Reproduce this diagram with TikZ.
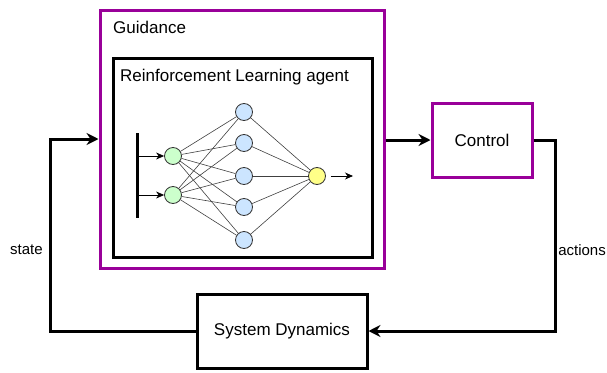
\documentclass[tikz,border=0pt]{standalone}
\usepackage{fontspec}
\setmainfont{Liberation Sans}
\usetikzlibrary{arrows.meta}
\definecolor{purp}{HTML}{990099}
\definecolor{ingreen}{HTML}{CCFFCC}
\definecolor{hidblue}{HTML}{CCE5FF}
\definecolor{outyel}{HTML}{FFFF88}
\tikzset{
  purplebox/.style={draw=purp, line width=3pt, rectangle, inner sep=0pt},
  blackbox/.style={draw=black, line width=3pt, rectangle, inner sep=0pt},
  conn/.style={line width=3pt, -{Stealth[length=12pt,width=12pt,inset=4pt]}, line join=miter},
  neuron/.style={circle, draw=black!80, line width=0.8pt, minimum size=17pt, inner sep=0pt},
  syn/.style={draw=black!75, line width=0.6pt},
  small arrow/.style={line width=0.8pt, -{Stealth[length=8pt,width=7pt,inset=2.5pt]}},
  lbl/.style={font=\fontsize{17}{20}\selectfont, inner sep=0pt},
}
\begin{document}
\begin{tikzpicture}[x=1pt,y=-1pt]
\useasboundingbox (0,0) rectangle (607,372);
% boxes
\node[purplebox, minimum width=284pt, minimum height=258pt] (guid) at (242,139) {};
\node[lbl, anchor=west] (guidlbl) at (113,27) {Guidance};
\node[blackbox, minimum width=259pt, minimum height=199pt] (rl) at (242.5,157.5) {};
\node[lbl, anchor=west] (rllbl) at (120,77) {Reinforcement Learning agent};
\node[purplebox, minimum width=100pt, minimum height=74pt, lbl] (ctrl) at (482,140) {Control};
\node[blackbox, minimum width=170pt, minimum height=74pt, lbl] (sys) at (282,331) {System Dynamics};
% neural net
\coordinate (bartop) at (137,133);
\coordinate (barbot) at (137,218);
\draw[line width=3pt] (bartop) -- (barbot);
\node[neuron, fill=ingreen] (i1) at (173,156) {};
\node[neuron, fill=ingreen] (i2) at (173,195) {};
\node[neuron, fill=hidblue] (h1) at (244,112) {};
\node[neuron, fill=hidblue] (h2) at (244,143) {};
\node[neuron, fill=hidblue] (h3) at (244,176) {};
\node[neuron, fill=hidblue] (h4) at (244,207) {};
\node[neuron, fill=hidblue] (h5) at (244,240) {};
\node[neuron, fill=outyel] (o) at (317,176) {};
\coordinate (b1) at (137,156);
\coordinate (b2) at (137,195);
\draw[small arrow] (b1) -- (i1);
\draw[small arrow] (b2) -- (i2);
\foreach \i in {i1,i2}{\foreach \h in {h1,h2,h3,h4,h5}{\draw[syn] (\i) -- (\h);}}
\foreach \h in {h1,h2,h3,h4,h5}{\draw[syn] (\h) -- (o);}
\coordinate (oend) at (353,176);
\draw[small arrow] (o.east) ++(5,0) coordinate (ostart) -- (oend);
% connectors
\draw[conn] (guid.east |- ctrl.west) -- (ctrl.west);
\coordinate (cr) at (555,140);
\coordinate (cb) at (555,331);
\draw[conn] (ctrl.east) -- (cr) -- (cb) -- (sys.east);
\coordinate (sl) at (50,331);
\coordinate (st) at (50,139);
\draw[conn] (sys.west) -- (sl) -- (st) -- (guid.west |- st);
% labels
\node[font=\fontsize{15}{18}\selectfont, inner sep=0pt, anchor=west] (statelbl) at (10,250) {state};
\node[font=\fontsize{15}{18}\selectfont, inner sep=0pt, anchor=east] (actlbl) at (606,250) {actions};
\end{tikzpicture}
\end{document}
